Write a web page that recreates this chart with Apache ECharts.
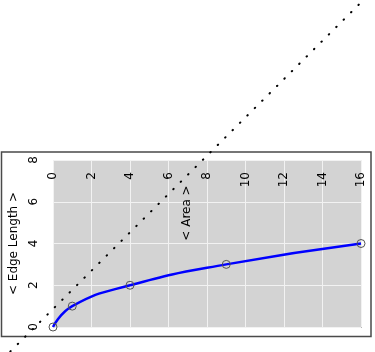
<!DOCTYPE html>
<html>
<head>
<meta charset="utf-8">
<script src="https://cdn.jsdelivr.net/npm/echarts@6/dist/echarts.min.js"></script>
<style>
  html, body { margin: 0; padding: 0; background: #fff; }
  #chart { width: 375px; height: 352px; }
</style>
</head>
<body>
<div id="chart"></div>
<script>
// data
const areaValues = [0, 1, 4, 9, 16];
const edgeValues = [0, 1, 2, 3, 4];
// dotted reference line, end points (runs past the plot)
const refX = [-2.9, 16.6];
const refY = [-1.8, 16.1];
// axis ranges
const xMin = 0, xMax = 16, xStep = 2;
const yMin = 0, yMax = 8, yStep = 2;

const font = 'DejaVu Sans';

const chart = echarts.init(document.getElementById('chart'));

// line series get cut at the x min even with clip off, so the dotted
// line is a custom series placed with api.coord
function renderRefLine(params, api) {
  const a = api.coord([api.value(0), api.value(1)]);
  const b = api.coord([api.value(2), api.value(3)]);
  return {
    type: 'line',
    shape: { x1: a[0], y1: a[1], x2: b[0], y2: b[1] },
    style: {
      stroke: '#000',
      lineWidth: 2,
      lineDash: [0.5, 9.95],
      lineDashOffset: 2.3,
      lineCap: 'round'
    }
  };
}

const option = {
  backgroundColor: '#fff',
  animation: false,
  grid: {
    left: 53,
    right: 14,
    top: 160,
    bottom: 25,
    show: true,
    backgroundColor: '#d3d3d3',
    borderWidth: 0,
    shadowColor: '#b8b8b8',
    shadowOffsetX: 1,
    shadowOffsetY: 1
  },
  xAxis: {
    type: 'value',
    position: 'top',
    min: xMin,
    max: xMax,
    interval: xStep,
    axisLine: { show: false },
    axisTick: { show: false },
    axisLabel: {
      inside: true,
      rotate: 90,
      margin: 12,
      color: '#000',
      fontFamily: font,
      fontSize: 12,
      showMinLabel: true,
      showMaxLabel: true
    },
    splitLine: { lineStyle: { color: '#f2f2f2', width: 1 } }
  },
  yAxis: {
    type: 'value',
    min: yMin,
    max: yMax,
    interval: yStep,
    name: '< Edge Length >',
    nameLocation: 'middle',
    nameRotate: 90,
    nameGap: 30,
    nameTextStyle: { color: '#000', fontFamily: font, fontSize: 12 },
    axisLine: { show: false },
    axisTick: { show: false },
    axisLabel: {
      rotate: 90,
      margin: 13,
      color: '#000',
      fontFamily: font,
      fontSize: 12
    },
    splitLine: { lineStyle: { color: '#f2f2f2', width: 1 } }
  },
  graphic: [
    {
      type: 'rect',
      shape: { x: 1.5, y: 152, width: 369.5, height: 184.5 },
      style: { fill: 'none', stroke: '#4a4a4a', lineWidth: 1.5 },
      z: 1
    },
    {
      type: 'text',
      x: 187,
      y: 213,
      rotation: Math.PI / 2,
      style: {
        text: '< Area >',
        fill: '#000',
        font: '12px "DejaVu Sans"',
        align: 'center',
        verticalAlign: 'middle'
      },
      z: 3
    }
  ],
  series: [
    {
      type: 'custom',
      renderItem: renderRefLine,
      data: [[refX[0], refY[0], refX[1], refY[1]]],
      encode: { x: [0, 2], y: [1, 3] },
      clip: false,
      silent: true,
      z: 4
    },
    {
      type: 'line',
      data: areaValues.map((a, i) => [a, edgeValues[i]]),
      smooth: 0.5,
      symbol: 'circle',
      symbolSize: 8,
      clip: false,
      lineStyle: { color: '#0000ff', width: 2.5 },
      itemStyle: { color: 'rgba(0,0,0,0)', borderColor: '#555', borderWidth: 1 },
      z: 5
    }
  ]
};

chart.setOption(option);
</script>
</body>
</html>
